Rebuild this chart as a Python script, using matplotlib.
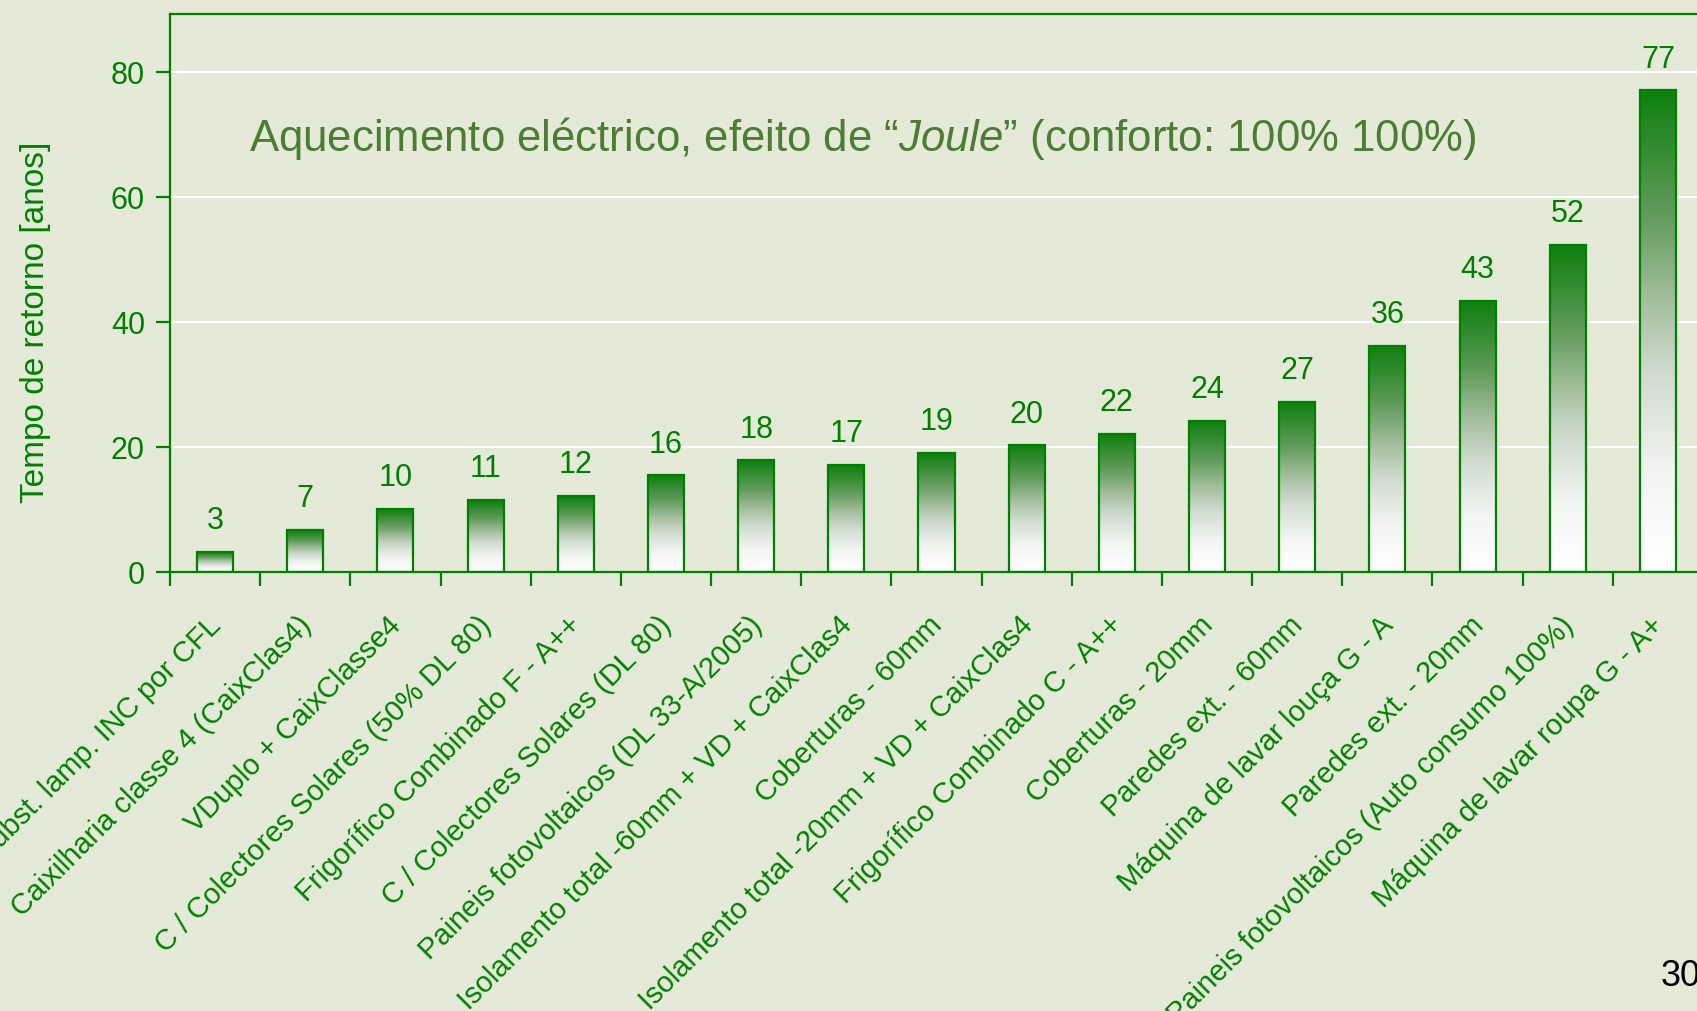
import matplotlib
matplotlib.use("Agg")
import matplotlib.pyplot as plt
import matplotlib.transforms as mtransforms
import numpy as np
from matplotlib.colors import LinearSegmentedColormap

# Dados do gráfico
categorias = [
    "Subst. lamp. INC por CFL",
    "Caixilharia classe 4 (CaixClas4)",
    "VDuplo + CaixClasse4",
    "C / Colectores Solares (50% DL 80)",
    "Frigorífico Combinado F - A++",
    "C / Colectores Solares (DL 80)",
    "Paineis fotovoltaicos (DL 33-A/2005)",
    "Isolamento total -60mm + VD + CaixClas4",
    "Coberturas - 60mm",
    "Isolamento total -20mm + VD + CaixClas4",
    "Frigorífico Combinado C - A++",
    "Coberturas - 20mm",
    "Paredes ext. - 60mm",
    "Máquina de lavar louça G - A",
    "Paredes ext. - 20mm",
    "Paineis fotovoltaicos (Auto consumo 100%)",
    "Máquina de lavar roupa G - A+",
]
valores = [3.1, 6.7, 10.0, 11.5, 12.1, 15.4, 17.8, 17.1, 19.0, 20.2,
           22.0, 24.1, 27.1, 36.1, 43.3, 52.3, 77.0]
rotulos = ["3", "7", "10", "11", "12", "16", "18", "17", "19", "20",
           "22", "24", "27", "36", "43", "52", "77"]

VERDE = "#008000"
FUNDO = "#e5e9d8"

plt.rcParams["font.family"] = ["Liberation Sans", "DejaVu Sans"]
plt.rcParams["mathtext.fontset"] = "custom"
plt.rcParams["mathtext.rm"] = "Liberation Sans"
plt.rcParams["mathtext.it"] = "Liberation Sans:italic"

fig = plt.figure(figsize=(16.97, 10.12), dpi=100, facecolor=FUNDO)
ax = fig.add_axes([170 / 1697, 1 - 572.5 / 1012, 1533 / 1697, 557.5 / 1012])
ax.set_facecolor(FUNDO)

x = np.arange(len(valores)) + 0.5
barras = ax.bar(x, valores, width=0.4, color="none", edgecolor=VERDE,
                linewidth=1.6, zorder=3)

# gradiente verde -> branco em cada barra
cmap = LinearSegmentedColormap.from_list("grad", [
    (0.0, "#ffffff"), (0.2, "#f3f5f3"), (0.4, "#d2ddd2"),
    (0.55, "#a9c1a3"), (0.75, "#5e9a58"), (1.0, "#0f800f")])
grad = np.linspace(0, 1, 256).reshape(-1, 1)
for b in barras:
    x0, w, h = b.get_x(), b.get_width(), b.get_height()
    im = ax.imshow(grad, cmap=cmap, origin="lower", aspect="auto",
                   extent=[x0, x0 + w, 0, h], zorder=2)
    im.set_clip_path(b)

for xi, v, r in zip(x, valores, rotulos):
    ax.annotate(r, (xi, v), xytext=(0, 12), textcoords="offset points",
                ha="center", va="bottom", fontsize=22, color=VERDE)

ax.set_xlim(0, len(valores))
ax.set_ylim(0, 89.2)
ax.set_yticks([0, 20, 40, 60, 80])
ax.yaxis.grid(True, color="white", linewidth=1.5, zorder=0)
ax.set_axisbelow(True)

ax.set_xticks(np.arange(len(valores) + 1))
ax.set_xticklabels([])
ax.set_xticks(x, minor=True)
ax.set_xticklabels(categorias, minor=True, rotation=45, ha="right",
                   rotation_mode="anchor", fontsize=21, color=VERDE)
ax.tick_params(axis="x", which="minor", length=0, pad=28)
ax.tick_params(axis="x", which="major", length=10, width=1.6, color=VERDE)
ax.tick_params(axis="y", length=10, width=1.6, color=VERDE, labelsize=22,
               labelcolor=VERDE, pad=8)
# desloca os rótulos um pouco para a esquerda
desloc = mtransforms.ScaledTranslation(-6 / 72, 0, fig.dpi_scale_trans)
for lab in ax.get_xticklabels(minor=True):
    lab.set_transform(lab.get_transform() + desloc)

for s in ["left", "bottom", "top"]:
    ax.spines[s].set_color(VERDE)
    ax.spines[s].set_linewidth(1.6)
ax.spines["right"].set_visible(False)

ax.set_ylabel("Tempo de retorno [anos]", fontsize=24, color=VERDE)
ax.yaxis.set_label_coords((51 - 170) / 1533, 0.449)

fig.text(249 / 1697, 1 - 139 / 1012,
         "Aquecimento eléctrico, efeito de “$\\mathit{Joule}$” (conforto: 100% 100%)",
         fontsize=31.5, color="#4b7d32", va="center", ha="left")

fig.text(1661 / 1697, 1 - 977 / 1012, "30", fontsize=26, color="black",
         va="center", ha="left")

fig.savefig("out.png", dpi=100, facecolor=FUNDO)
